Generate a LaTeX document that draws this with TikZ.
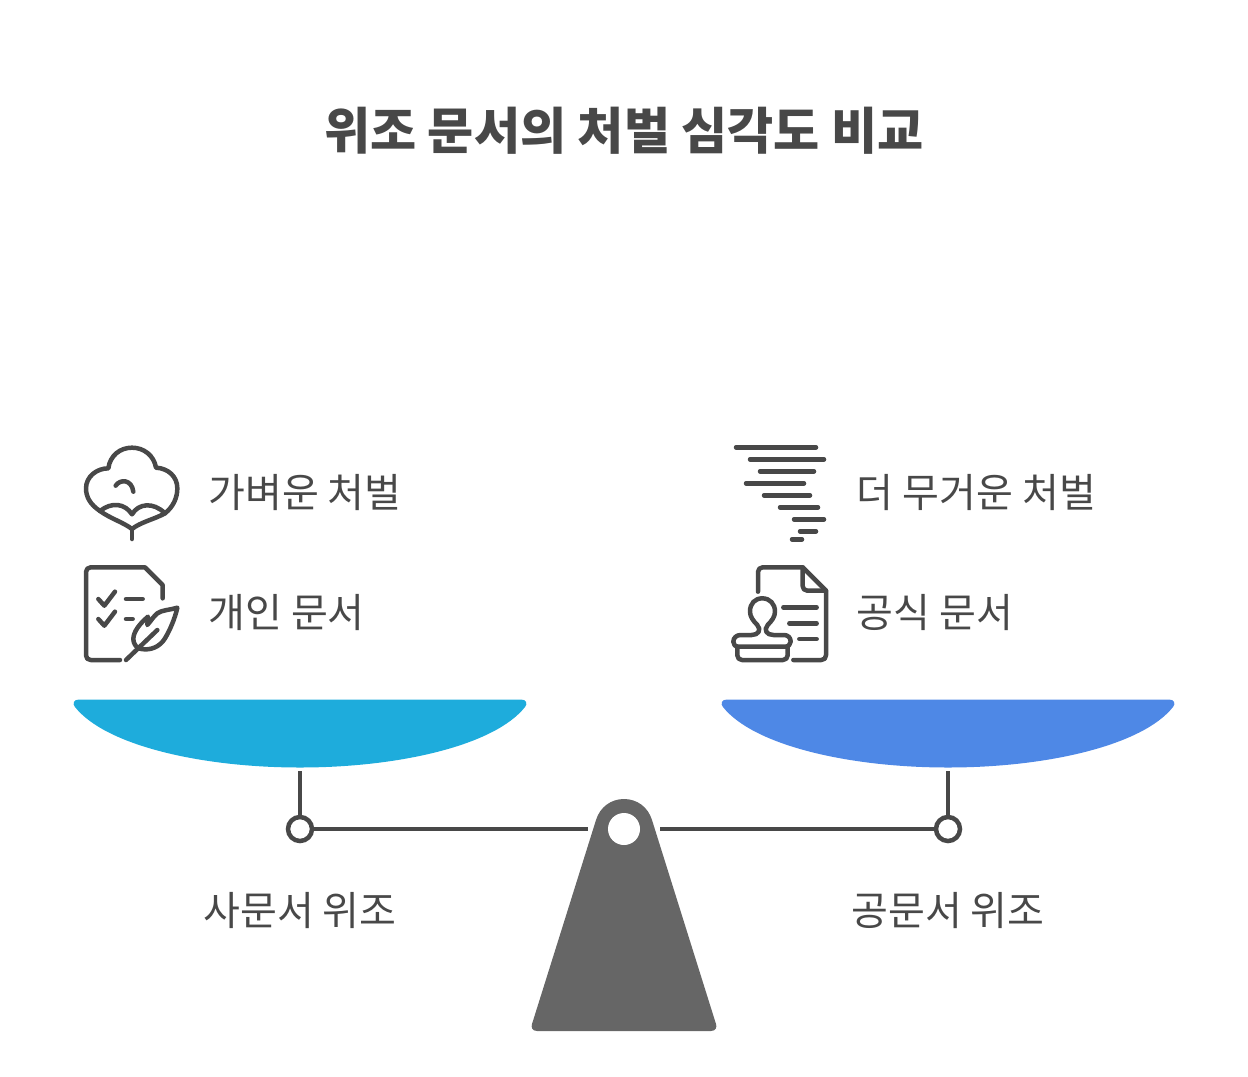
\documentclass[tikz,border=0pt]{standalone}
\usepackage{fontspec}
\setmainfont{Noto Sans CJK KR}
\definecolor{inkgray}{HTML}{484848}
\definecolor{baseGray}{HTML}{666666}
\definecolor{panLeft}{HTML}{1EACDC}
\definecolor{panRight}{HTML}{4E88E6}
\tikzset{
	iconline/.style={line width=0.09cm, color=inkgray, line cap=round, line join=round},
	beam/.style={line width=0.09cm, color=inkgray},
	joint/.style={circle, draw=inkgray, fill=white, line width=0.09cm, inner sep=0, minimum size=0.48cm},
	label/.style={color=inkgray, inner sep=0, font=\fontsize{22.8}{27}\selectfont},
	heading/.style={color=inkgray, inner sep=0, font=\fontsize{28.55}{34}\selectfont\bfseries}
}

\begin{document}
\begin{tikzpicture}[x=0.02cm, y=-0.02cm]
		\useasboundingbox (0, 0) rectangle (1248, 1076);
		%%%%% START %%%%%
		
		\node[heading] (title) at (624, 131) {위조 문서의 처벌 심각도 비교};
		
		% pans
		\fill[panLeft] (79, 699.5) -- (521, 699.5) .. controls (527, 699.5) and (527.5, 704) .. (525, 707) .. controls (495, 745) and (400, 767.5) .. (300, 767.5) .. controls (200, 767.5) and (105, 745) .. (75, 707) .. controls (72.5, 704) and (73, 699.5) .. (79, 699.5) -- cycle;
		\fill[panRight] (727, 699.5) -- (1169, 699.5) .. controls (1175, 699.5) and (1175.5, 704) .. (1173, 707) .. controls (1143, 745) and (1048, 767.5) .. (948, 767.5) .. controls (848, 767.5) and (753, 745) .. (723, 707) .. controls (720.5, 704) and (721, 699.5) .. (727, 699.5) -- cycle;
		
		% beam
		\node[joint] (jointL) at (300, 829) {};
		\node[joint] (jointR) at (948, 829) {};
		\coordinate (stemL) at (300, 771);
		\coordinate (stemR) at (948, 771);
		\coordinate (beamL) at (588, 829);
		\coordinate (beamR) at (660, 829);
		\draw[beam] (stemL) -- (jointL);
		\draw[beam] (stemR) -- (jointR);
		\draw[beam] (jointL) -- (beamL);
		\draw[beam] (jointR) -- (beamR);
		
		% fulcrum
		\fill[baseGray] (537, 1031) -- (711, 1031) .. controls (716, 1031) and (717, 1027) .. (716, 1024) -- (652, 820) .. controls (648, 807) and (637, 799) .. (624, 799) .. controls (611, 799) and (600, 807) .. (596, 820) -- (532, 1024) .. controls (531, 1027) and (532, 1031) .. (537, 1031) -- cycle;
		\fill[white] (624, 829) circle (16);
		
		% cotton
		\begin{scope}[shift={(70, 435)}, scale=1/3]
			\draw[iconline] (186, 312) -- (186, 282);
			\draw[iconline] (186, 282) .. controls (160, 262) and (120, 250) .. (90, 228) .. controls (60, 208) and (48, 185) .. (48, 160) .. controls (48, 125) and (80, 100) .. (115, 100) .. controls (120, 62) and (150, 38) .. (186, 38) .. controls (222, 38) and (252, 62) .. (258, 98) .. controls (295, 100) and (322, 125) .. (322, 160) .. controls (322, 188) and (310, 215) .. (285, 235) .. controls (255, 252) and (210, 262) .. (186, 282);
			\draw[iconline] (90, 228) .. controls (125, 200) and (165, 205) .. (186, 238) .. controls (205, 205) and (250, 200) .. (285, 235);
			\draw[iconline] (137, 152) .. controls (150, 132) and (185, 132) .. (190, 170);
		\end{scope}
		
		% personal document
		\begin{scope}[shift={(70, 435)}, scale=1/3]
			\draw[iconline] (150, 675) -- (62, 675) .. controls (54, 675) and (48, 669) .. (48, 661) -- (48, 411) .. controls (48, 403) and (54, 397) .. (62, 397) -- (225, 397) -- (278, 450) -- (278, 490);
			\draw[iconline] (85, 492) -- (103, 512) -- (135, 470);
			\draw[iconline] (85, 552) -- (103, 572) -- (135, 530);
			\draw[iconline] (168, 492) -- (218, 492);
			\draw[iconline] (168, 552) -- (188, 552);
			\draw[iconline] (168, 675) -- (262, 585);
			\draw[iconline] (322, 518) .. controls (300, 525) and (275, 525) .. (262, 535) .. controls (250, 545) and (245, 555) .. (232, 570) -- (234, 545) .. controls (210, 565) and (190, 590) .. (190, 612) .. controls (190, 625) and (198, 635) .. (205, 640) .. controls (240, 650) and (270, 635) .. (285, 610) .. controls (300, 585) and (315, 550) .. (322, 518) -- cycle;
		\end{scope}
		
		% tornado
		\begin{scope}[shift={(720, 435)}, scale=1/3]
			\foreach \xa/\xb/\ya in {48/288/37, 90/312/73, 120/282/109, 78/252/145, 132/270/181, 180/294/217, 222/312/253, 240/288/289, 216/246/313}
				\draw[iconline] (\xa, \ya) -- (\xb, \ya);
		\end{scope}
		
		% official document
		\begin{scope}[shift={(720, 435)}, scale=1/3]
			\draw[iconline] (114, 470) -- (114, 411) .. controls (114, 403) and (120, 397) .. (128, 397) -- (248, 397) -- (318, 467) -- (318, 661) .. controls (318, 669) and (312, 675) .. (304, 675) -- (220, 675);
			\draw[iconline] (248, 397) -- (248, 453) .. controls (248, 461) and (254, 467) .. (262, 467) -- (318, 467);
			\draw[iconline] (190, 517) -- (290, 517);
			\draw[iconline] (208, 565) -- (290, 565);
			\draw[iconline] (238, 612) -- (290, 612);
			\draw[iconline] (55, 635) .. controls (45, 635) and (40, 628) .. (40, 620) .. controls (40, 608) and (50, 600) .. (62, 600) -- (95, 600) .. controls (115, 600) and (125, 585) .. (112, 570) .. controls (100, 558) and (90, 545) .. (90, 530) .. controls (90, 505) and (105, 490) .. (127, 490) .. controls (150, 490) and (165, 507) .. (165, 530) .. controls (165, 545) and (155, 558) .. (143, 570) .. controls (130, 585) and (140, 600) .. (160, 600) -- (192, 600) .. controls (204, 600) and (212, 608) .. (212, 620) .. controls (212, 628) and (205, 635) .. (195, 635) -- cycle;
			\draw[iconline] (52, 635) -- (52, 661) .. controls (52, 669) and (58, 675) .. (66, 675) -- (189, 675) .. controls (197, 675) and (203, 669) .. (203, 661) -- (203, 635);
		\end{scope}
		
		% labels
		\node[label, anchor=west] (lightText) at (208, 492.5) {가벼운 처벌};
		\node[label, anchor=west] (privateText) at (208, 613) {개인 문서};
		\node[label, anchor=west] (heavyText) at (856.5, 492.5) {더 무거운 처벌};
		\node[label, anchor=west] (officialText) at (856.5, 613) {공식 문서};
		\node[label] (forgeL) at (300, 911) {사문서 위조};
		\node[label] (forgeR) at (948, 911) {공문서 위조};
		
		%%%%% END %%%%%
	\end{tikzpicture}
\end{document}
